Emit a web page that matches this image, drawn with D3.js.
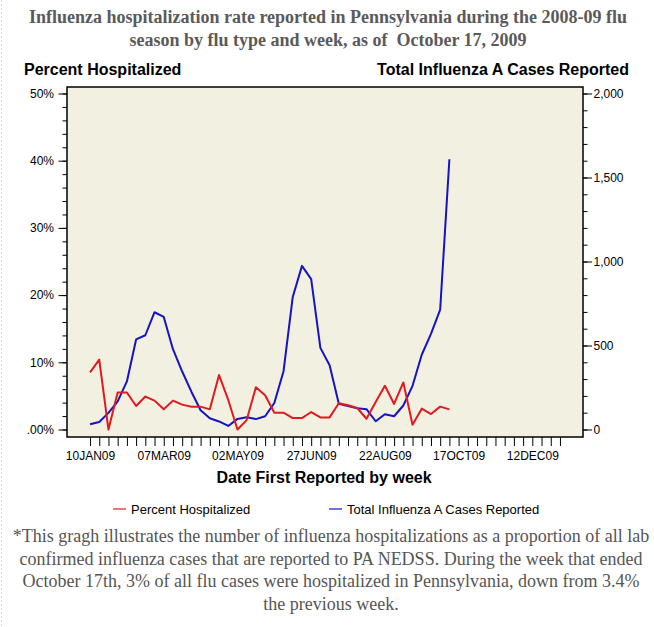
<!DOCTYPE html>
<html>
<head>
<meta charset="utf-8">
<script src="https://cdn.jsdelivr.net/npm/d3@7"></script>
<style>
  body { margin: 0; background: #fff; }
  svg { display: block; }
</style>
</head>
<body>
<div id="visual"></div>
<script>
// weekly series, first week ending 10JAN09
var weekStart = "2009-01-10";

var pctHosp = [8.5, 10.4, 0.0, 5.5, 5.5, 3.5, 4.9, 4.3, 3.0, 4.3,
               3.7, 3.4, 3.4, 3.0, 8.1, 4.4, 0.0, 1.4, 6.3, 5.1,
               2.5, 2.5, 1.7, 1.7, 2.6, 1.8, 1.8, 3.9, 3.6, 3.2,
               1.6, 4.1, 6.5, 3.8, 7.0, 0.7, 3.1, 2.3, 3.4, 3.0];

var casesA = [31, 45, 99, 167, 286, 536, 561, 698, 670, 478,
              345, 225, 115, 67, 48, 21, 63, 73, 62, 79,
              158, 347, 789, 974, 895, 486, 383, 153, 139, 127,
              121, 49, 91, 79, 143, 260, 445, 569, 714, 1609];

var pctTicks = [0, 10, 20, 30, 40, 50];
var caseTicks = [0, 500, 1000, 1500, 2000];

var titleLines = ["Influenza hospitalization rate reported in Pennsylvania during the 2008-09 flu",
                  "season by flu type and week, as of  October 17, 2009"];

var noteLines = ["*This gragh illustrates the number of influenza hospitalizations as a proportion of all lab",
                 "confirmed influenza cases that are reported to PA NEDSS. During the week that ended",
                 "October 17th, 3% of all flu cases were hospitalized in Pennsylvania, down from 3.4%",
                 "the previous week."];

var seriesNames = ["Percent Hospitalized", "Total Influenza A Cases Reported"];
var seriesColors = ["#e01a1e", "#1414c4"];

var W = 654, H = 627;
var frame = {left: 67, right: 583, top: 87, bottom: 437};
var sansFont = "'Liberation Sans', Arial, sans-serif";
var serifFont = "'Liberation Serif', 'Times New Roman', serif";

var svg = d3.select("#visual").append("svg")
    .attr("width", W)
    .attr("height", H);

// faint dotted page edge on the left
svg.append("line")
    .attr("x1", 1.5).attr("x2", 1.5)
    .attr("y1", 0).attr("y2", H)
    .attr("stroke", "#d8d8d8")
    .attr("stroke-dasharray", "2,2");

var t0 = new Date(weekStart + "T00:00:00Z");
function weekDate(i) {
    return d3.utcDay.offset(t0, 7 * i);
}

// the frame reaches 2.5 weeks before the first tick and 2.5 after the last one
var x = d3.scaleUtc()
    .domain([d3.utcHour.offset(t0, -2.5 * 168), d3.utcHour.offset(t0, 53.5 * 168)])
    .range([frame.left, frame.right]);

var yPct = d3.scaleLinear().domain([0, 50]).range([429.5, 93.5]);
var yCases = d3.scaleLinear().domain([0, 2000]).range([429.5, 93.5]);

/* plot background and frame */
svg.append("rect")
    .attr("x", frame.left).attr("y", frame.top)
    .attr("width", frame.right - frame.left)
    .attr("height", frame.bottom - frame.top)
    .attr("fill", "#f2f0e0");

/* title */
svg.append("g").selectAll("text")
    .data(titleLines)
    .enter().append("text")
    .attr("x", W / 2 + 1)
    .attr("y", function (d, i) { return 22.5 + i * 23; })
    .attr("text-anchor", "middle")
    .attr("font-family", serifFont)
    .attr("font-weight", "bold")
    .attr("font-size", "18px")
    .attr("fill", "#5a5a5a")
    .style("white-space", "pre")
    .text(function (d) { return d; });

/* axis titles */
svg.append("text")
    .attr("x", 24).attr("y", 75)
    .attr("font-family", sansFont)
    .attr("font-weight", "bold")
    .attr("font-size", "16px")
    .text("Percent Hospitalized");

svg.append("text")
    .attr("x", 629).attr("y", 75)
    .attr("text-anchor", "end")
    .attr("font-family", sansFont)
    .attr("font-weight", "bold")
    .attr("font-size", "16px")
    .text("Total Influenza A Cases Reported");

svg.append("text")
    .attr("x", 324).attr("y", 483)
    .attr("text-anchor", "middle")
    .attr("font-family", sansFont)
    .attr("font-weight", "bold")
    .attr("font-size", "16px")
    .text("Date First Reported by week");

/* left axis */
function styleAxis(g) {
    g.select(".domain").remove();
    g.selectAll("text")
        .attr("font-family", sansFont)
        .attr("font-size", "12px")
        .attr("fill", "#000");
    g.selectAll("line").attr("stroke", "#000");
}

svg.append("g")
    .attr("transform", "translate(" + frame.left + ",0)")
    .call(d3.axisLeft(yPct).tickValues(d3.range(0, 51, 2)).tickSize(4.5).tickFormat(""))
    .call(styleAxis);

svg.append("g")
    .attr("transform", "translate(" + frame.left + ",0)")
    .call(d3.axisLeft(yPct).tickValues(pctTicks).tickSize(8.5).tickPadding(4.5)
        .tickFormat(function (d) { return d === 0 ? ".00%" : d + "%"; }))
    .call(styleAxis);

/* right axis */
svg.append("g")
    .attr("transform", "translate(" + frame.right + ",0)")
    .call(d3.axisRight(yCases).tickValues(d3.range(0, 2001, 100)).tickSize(4.5).tickFormat(""))
    .call(styleAxis);

svg.append("g")
    .attr("transform", "translate(" + frame.right + ",0)")
    .call(d3.axisRight(yCases).tickValues(caseTicks).tickSize(9).tickPadding(1.5)
        .tickFormat(d3.format(",")))
    .call(styleAxis);

/* bottom axis: a tick every week, a label every 8 weeks */
var weekTicks = d3.range(0, 52).map(weekDate);
var fmtWeek = d3.utcFormat("%d%b%y");

svg.append("g")
    .attr("transform", "translate(0," + frame.bottom + ")")
    .call(d3.axisBottom(x).tickValues(weekTicks).tickSize(9).tickPadding(5.5)
        .tickFormat(function (d, i) { return i % 8 === 0 ? fmtWeek(d).toUpperCase() : ""; }))
    .call(styleAxis);

/* frame border */
svg.append("rect")
    .attr("x", frame.left).attr("y", frame.top)
    .attr("width", frame.right - frame.left)
    .attr("height", frame.bottom - frame.top)
    .attr("fill", "none")
    .attr("stroke", "#000")
    .attr("stroke-width", 1.5);

/* series lines */
var pctLine = d3.line()
    .x(function (d, i) { return x(weekDate(i)); })
    .y(function (d) { return yPct(d); });

var casesLine = d3.line()
    .x(function (d, i) { return x(weekDate(i)); })
    .y(function (d) { return yCases(d); });

svg.append("path")
    .datum(casesA)
    .attr("d", casesLine)
    .attr("fill", "none")
    .attr("stroke", seriesColors[1])
    .attr("stroke-width", 2)
    .attr("stroke-linejoin", "round");

svg.append("path")
    .datum(pctHosp)
    .attr("d", pctLine)
    .attr("fill", "none")
    .attr("stroke", seriesColors[0])
    .attr("stroke-width", 2)
    .attr("stroke-linejoin", "round");

/* legend */
var legendX = [113, 329];
var legend = svg.append("g").selectAll("g")
    .data(seriesNames)
    .enter().append("g")
    .attr("transform", function (d, i) { return "translate(" + legendX[i] + ",509)"; });

legend.append("line")
    .attr("x1", 0).attr("x2", 13)
    .attr("y1", 0).attr("y2", 0)
    .attr("stroke", function (d, i) { return seriesColors[i]; })
    .attr("stroke-width", 1.2);

legend.append("text")
    .attr("x", 18).attr("y", 5)
    .attr("font-family", sansFont)
    .attr("font-size", "13px")
    .text(function (d) { return d; });

/* footnote */
svg.append("g").selectAll("text")
    .data(noteLines)
    .enter().append("text")
    .attr("x", 331)
    .attr("y", function (d, i) { return 542 + i * 22.6; })
    .attr("text-anchor", "middle")
    .attr("font-family", serifFont)
    .attr("font-size", "18px")
    .attr("fill", "#555")
    .text(function (d) { return d; });
</script>
</body>
</html>
